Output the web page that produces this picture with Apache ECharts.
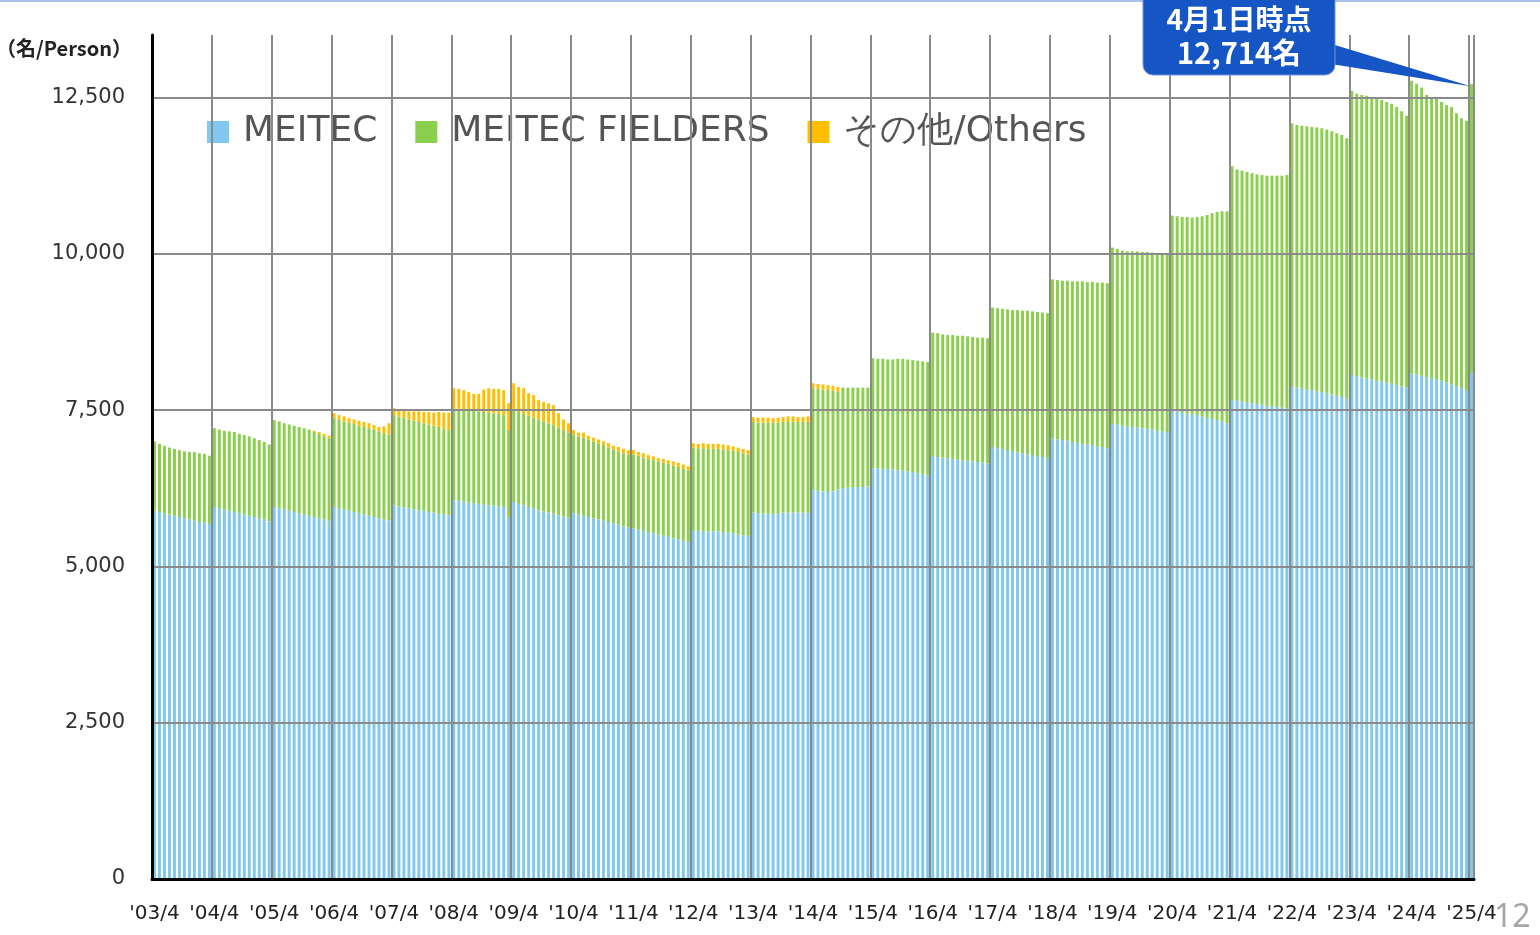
<!DOCTYPE html>
<html>
<head>
<meta charset="utf-8">
<script src="https://cdn.jsdelivr.net/npm/echarts@6/dist/echarts.min.js"></script>
<style>
  html, body { margin: 0; padding: 0; background: #fff; }
  #main { width: 1540px; height: 935px; }
</style>
</head>
<body>
<div id="main"></div>
<script>
// fiscal years shown on the axis ('03/4 ... '25/4), months in fiscal order
const years = ['03', '04', '05', '06', '07', '08', '09', '10', '11', '12', '13', '14',
  '15', '16', '17', '18', '19', '20', '21', '22', '23', '24', '25']
const monthOrder = [4, 5, 6, 7, 8, 9, 10, 11, 12, 1, 2, 3]

// MEITEC (名), one row per fiscal year April..March, last = '25/4
const meitec = [
  5890, 5870, 5850, 5830, 5810, 5790, 5770, 5750, 5730, 5710, 5700, 5680,
  5950, 5930, 5910, 5890, 5870, 5850, 5830, 5810, 5790, 5770, 5750, 5720,
  5950, 5930, 5910, 5890, 5870, 5850, 5830, 5810, 5790, 5770, 5750, 5730,
  5950, 5930, 5910, 5890, 5870, 5850, 5830, 5810, 5790, 5770, 5750, 5740,
  5980, 5960, 5940, 5930, 5910, 5900, 5890, 5870, 5860, 5840, 5830, 5820,
  6060, 6050, 6040, 6020, 6010, 6000, 5990, 5980, 5970, 5960, 5950, 5790,
  6030, 6000, 5980, 5950, 5930, 5900, 5880, 5860, 5840, 5820, 5800, 5780,
  5850, 5830, 5810, 5790, 5770, 5750, 5730, 5710, 5690, 5670, 5640, 5620,
  5610, 5590, 5570, 5550, 5530, 5510, 5490, 5470, 5450, 5430, 5410, 5390,
  5570, 5570, 5570, 5560, 5560, 5560, 5550, 5540, 5530, 5510, 5500, 5490,
  5860, 5850, 5850, 5840, 5840, 5850, 5860, 5860, 5860, 5860, 5860, 5860,
  6220, 6210, 6200, 6190, 6200, 6230, 6250, 6260, 6270, 6270, 6270, 6280,
  6570, 6570, 6560, 6560, 6550, 6540, 6530, 6520, 6510, 6490, 6480, 6460,
  6760, 6750, 6740, 6730, 6720, 6710, 6700, 6690, 6680, 6670, 6660, 6650,
  6910, 6890, 6880, 6860, 6840, 6820, 6810, 6790, 6780, 6760, 6750, 6730,
  7050, 7030, 7020, 7010, 6990, 6980, 6960, 6950, 6940, 6920, 6910, 6890,
  7280, 7270, 7250, 7240, 7230, 7220, 7210, 7200, 7190, 7170, 7160, 7150,
  7500, 7480, 7460, 7450, 7430, 7420, 7400, 7380, 7360, 7340, 7320, 7290,
  7660, 7650, 7640, 7620, 7610, 7600, 7590, 7570, 7560, 7550, 7540, 7530,
  7870, 7860, 7840, 7830, 7820, 7800, 7790, 7770, 7750, 7730, 7710, 7690,
  8060, 8040, 8020, 8010, 7990, 7970, 7960, 7940, 7920, 7900, 7880, 7860,
  8090, 8070, 8050, 8030, 8010, 7990, 7970, 7940, 7910, 7880, 7850, 7820,
  8090
]

// MEITEC FIELDERS
const fielders = [
  1110, 1090, 1080, 1070, 1070, 1070, 1070, 1080, 1100, 1100, 1100, 1090,
  1260, 1260, 1260, 1270, 1280, 1270, 1270, 1270, 1260, 1250, 1240, 1230,
  1390, 1390, 1380, 1380, 1380, 1380, 1380, 1380, 1360, 1350, 1330, 1320,
  1430, 1420, 1410, 1410, 1410, 1400, 1400, 1400, 1400, 1390, 1380, 1370,
  1440, 1440, 1440, 1420, 1420, 1410, 1400, 1400, 1390, 1390, 1370, 1360,
  1470, 1470, 1470, 1480, 1480, 1480, 1480, 1480, 1480, 1480, 1470, 1390,
  1470, 1470, 1460, 1460, 1450, 1450, 1440, 1430, 1420, 1400, 1380, 1360,
  1260, 1250, 1250, 1240, 1230, 1220, 1210, 1190, 1180, 1170, 1170, 1170,
  1180, 1180, 1170, 1170, 1170, 1170, 1170, 1170, 1160, 1160, 1150, 1150,
  1330, 1320, 1320, 1320, 1320, 1320, 1320, 1320, 1320, 1320, 1310, 1300,
  1450, 1450, 1450, 1460, 1460, 1450, 1450, 1450, 1450, 1450, 1450, 1450,
  1630, 1630, 1630, 1630, 1610, 1570, 1610, 1600, 1590, 1590, 1590, 1580,
  1760, 1750, 1760, 1750, 1760, 1780, 1790, 1790, 1790, 1800, 1800, 1810,
  1980, 1980, 1970, 1970, 1980, 1980, 1990, 1990, 1990, 1990, 2000, 2000,
  2230, 2240, 2240, 2250, 2260, 2280, 2280, 2300, 2300, 2310, 2310, 2320,
  2540, 2550, 2550, 2560, 2570, 2580, 2600, 2600, 2610, 2620, 2630, 2640,
  2820, 2810, 2800, 2800, 2810, 2820, 2820, 2830, 2830, 2840, 2840, 2840,
  3110, 3120, 3130, 3140, 3150, 3170, 3200, 3240, 3290, 3330, 3360, 3390,
  3740, 3700, 3690, 3690, 3680, 3670, 3670, 3680, 3690, 3700, 3710, 3730,
  4220, 4200, 4210, 4210, 4210, 4220, 4220, 4220, 4210, 4200, 4190, 4160,
  4550, 4520, 4520, 4520, 4520, 4510, 4500, 4490, 4480, 4450, 4400, 4350,
  4680, 4650, 4610, 4510, 4500, 4500, 4460, 4440, 4440, 4370, 4320, 4310,
  4624
]

// その他/Others
const others = [
  0, 0, 0, 0, 0, 0, 0, 0, 0, 0, 0, 0,
  0, 0, 0, 0, 0, 0, 0, 0, 0, 0, 0, 0,
  0, 0, 0, 0, 0, 0, 0, 0, 20, 30, 40, 40,
  70, 70, 80, 70, 70, 80, 80, 80, 70, 70, 110, 180,
  110, 100, 110, 130, 150, 170, 180, 200, 210, 240, 260, 280,
  320, 320, 310, 290, 270, 280, 360, 390, 390, 400, 400, 430,
  430, 400, 410, 360, 360, 310, 310, 320, 320, 230, 170, 150,
  70, 60, 80, 60, 60, 60, 60, 70, 60, 70, 70, 70,
  70, 60, 70, 60, 60, 50, 60, 60, 70, 70, 70, 60,
  70, 70, 80, 80, 80, 80, 80, 80, 70, 70, 70, 70,
  80, 80, 80, 80, 70, 80, 80, 90, 90, 80, 80, 90,
  80, 80, 80, 80, 80, 70, 0, 0, 0, 0, 0, 0,
  0, 0, 0, 0, 0, 0, 0, 0, 0, 0, 0, 0,
  0, 0, 0, 0, 0, 0, 0, 0, 0, 0, 0, 0,
  0, 0, 0, 0, 0, 0, 0, 0, 0, 0, 0, 0,
  0, 0, 0, 0, 0, 0, 0, 0, 0, 0, 0, 0,
  0, 0, 0, 0, 0, 0, 0, 0, 0, 0, 0, 0,
  0, 0, 0, 0, 0, 0, 0, 0, 0, 0, 0, 0,
  0, 0, 0, 0, 0, 0, 0, 0, 0, 0, 0, 0,
  0, 0, 0, 0, 0, 0, 0, 0, 0, 0, 0, 0,
  0, 0, 0, 0, 0, 0, 0, 0, 0, 0, 0, 0,
  0, 0, 0, 0, 0, 0, 0, 0, 0, 0, 0, 0,
  0
]

const calloutLines = ['4月1日時点', '12,714名']

// month categories: '03/4 ... '25/4
const categories = []
years.forEach((yy, i) => {
  if (i === years.length - 1) {
    categories.push("'" + yy + '/4')
    return
  }
  monthOrder.forEach(m => {
    const y = m >= 4 ? yy : years[i + 1]
    categories.push("'" + y + '/' + m)
  })
})

const chart = echarts.init(document.getElementById('main'))

function barSeries(name, data, color) {
  return {
    name: name,
    type: 'bar',
    stack: 'total',
    data: data,
    barWidth: '60%',
    itemStyle: {color: color},
    emphasis: {disabled: true}
  }
}

chart.setOption({
  animation: false,
  title: {
    text: '（名/Person）',
    left: -9,
    top: 33,
    textStyle: {fontFamily: 'Noto Sans CJK JP', fontSize: 20, fontWeight: 'bold', color: '#222'}
  },
  legend: {
    left: 207,
    top: 114,
    padding: 0,
    icon: 'rect',
    itemWidth: 22,
    itemHeight: 22,
    itemGap: 38,
    textStyle: {fontFamily: 'DejaVu Sans', fontSize: 36, color: '#555', padding: [0, 0, 0, 9]},
    data: ['MEITEC', 'MEITEC FIELDERS', 'その他/Others']
  },
  grid: {left: 152, right: 66, top: 35, bottom: 56},
  xAxis: {
    type: 'category',
    data: categories,
    axisLine: {lineStyle: {color: '#000', width: 3}},
    axisTick: {show: false},
    axisLabel: {
      interval: (i) => i % 12 === 0,
      margin: 25,
      fontFamily: 'DejaVu Sans',
      fontSize: 20,
      color: '#222'
    },
    splitLine: {
      show: true,
      interval: (i) => i % 12 === 0,
      lineStyle: {color: '#8a8a8a', width: 2}
    },
    z: 5
  },
  yAxis: {
    type: 'value',
    min: 0,
    max: 13500,
    interval: 2500,
    axisLine: {show: true, lineStyle: {color: '#000', width: 3}},
    axisTick: {show: false},
    axisLabel: {
      showMaxLabel: false,
      margin: 27,
      fontFamily: 'DejaVu Sans',
      fontSize: 21,
      color: '#333',
      formatter: (v) => v.toLocaleString('en-US')
    },
    splitLine: {show: true, showMaxLine: false, lineStyle: {color: '#8a8a8a', width: 2}},
    z: 5
  },
  series: [
    barSeries('MEITEC', meitec, '#82c8ee'),
    barSeries('MEITEC FIELDERS', fielders, '#8ccf4f'),
    barSeries('その他/Others', others, '#ffbf00')
  ]
})

// callout pointing at the latest bar
const last = categories.length - 1
const tip = chart.convertToPixel({gridIndex: 0}, [last, meitec[last] + fielders[last] + others[last]])

chart.setOption({
  graphic: [
    {type: 'rect', left: 0, top: 0, shape: {width: 1540, height: 2}, style: {fill: '#a9c2e6'}, silent: true},
    {
      type: 'polygon',
      shape: {points: [[1325, 42], [1325, 63], [tip[0] - 1, tip[1] + 2]]},
      style: {fill: '#1556c4'},
      z: 100
    },
    {
      type: 'rect',
      shape: {x: 1143, y: -12, width: 192, height: 87, r: 10},
      style: {fill: '#1556c4', stroke: '#6f95da', lineWidth: 1},
      z: 101
    },
    {
      type: 'text',
      x: 1239,
      y: 19,
      style: {
        text: calloutLines[0],
        fill: '#fff',
        font: 'bold 28px "Noto Sans CJK JP"',
        align: 'center',
        verticalAlign: 'middle'
      },
      z: 102
    },
    {
      type: 'text',
      x: 1239,
      y: 53,
      style: {
        text: calloutLines[1],
        fill: '#fff',
        font: 'bold 29px "Noto Sans CJK JP"',
        align: 'center',
        verticalAlign: 'middle'
      },
      z: 102
    },
    {
      type: 'text',
      x: 1494,
      y: 902,
      style: {text: '12', fill: '#a6a6a6', font: '32px "Noto Sans"'},
      z: 102
    }
  ]
})
</script>
</body>
</html>
